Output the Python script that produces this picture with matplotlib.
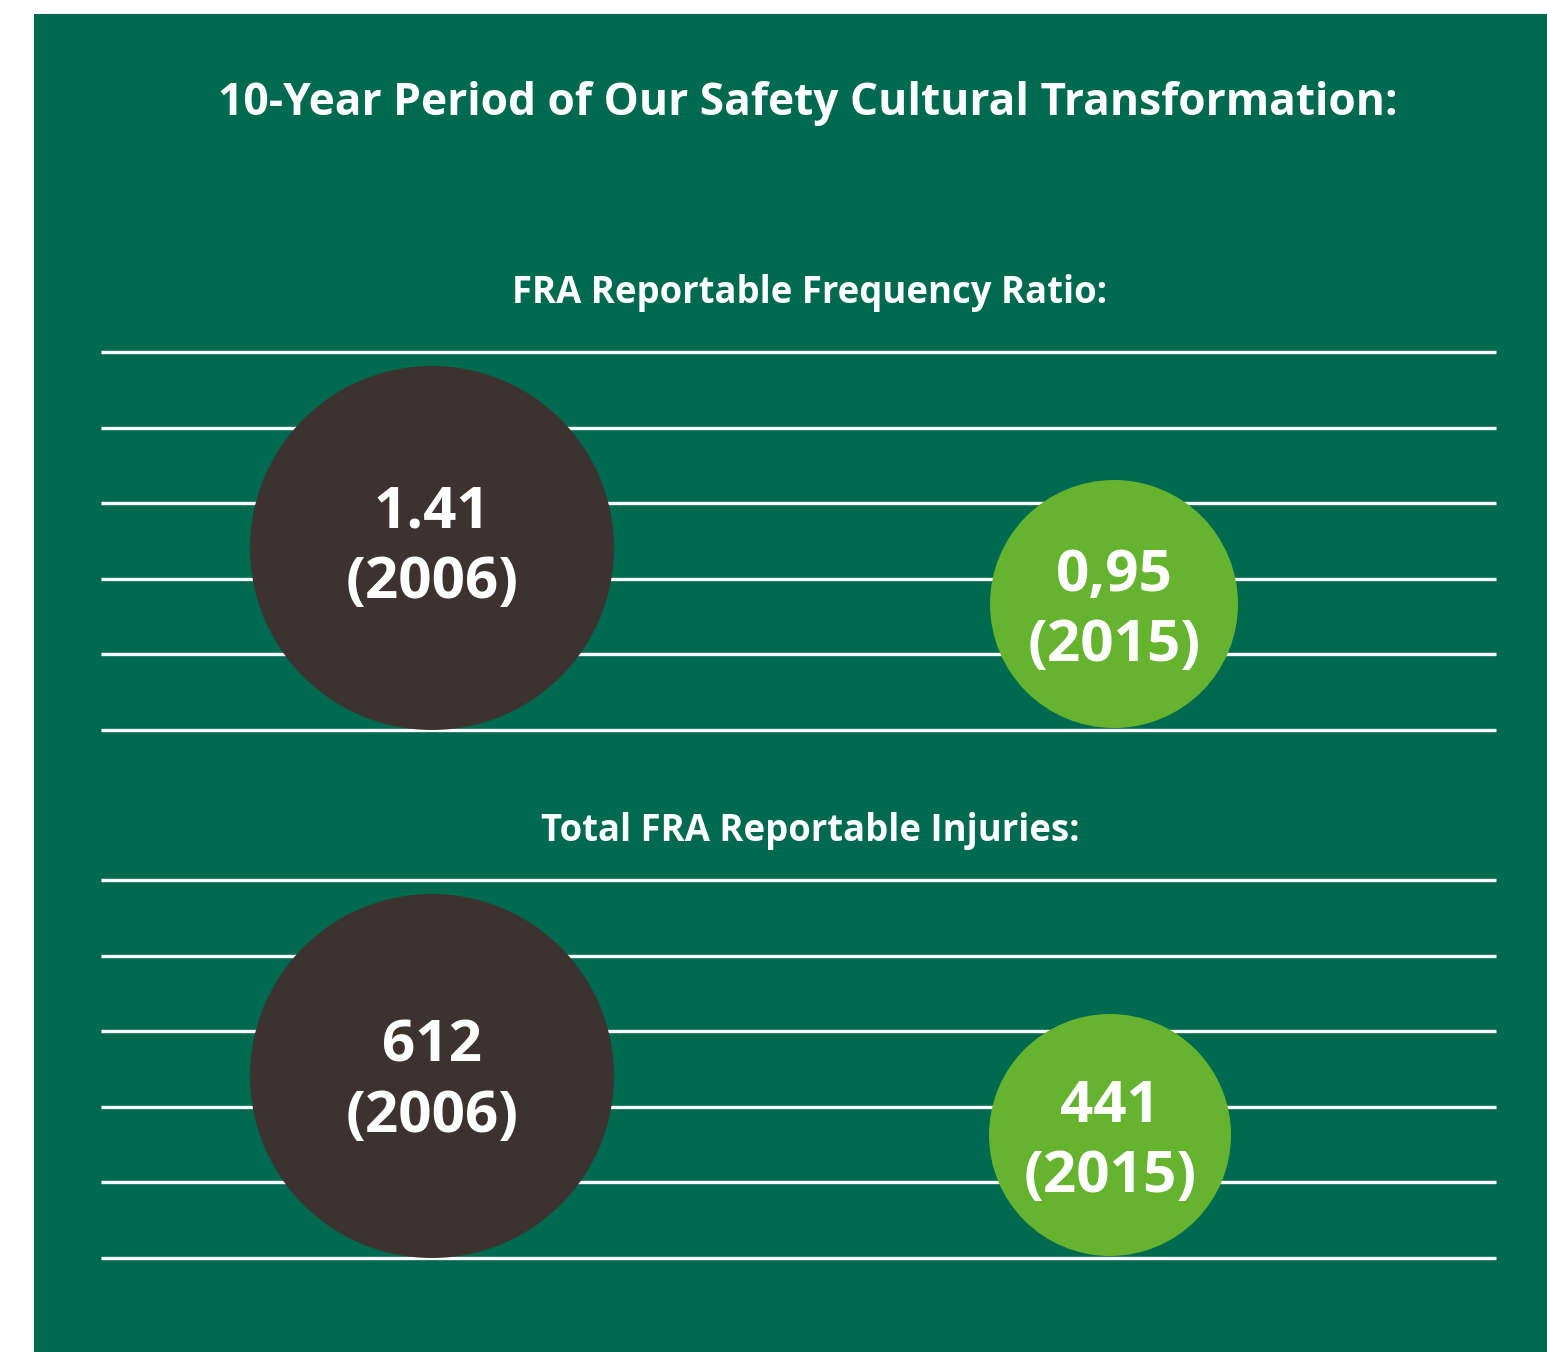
import matplotlib
matplotlib.use("Agg")
import matplotlib.pyplot as plt
from matplotlib.patches import Rectangle, Circle

plt.rcParams['font.family'] = ['Open Sans', 'DejaVu Sans']

title = "10-Year Period of Our Safety Cultural Transformation:"
panel_titles = ["FRA Reportable Frequency Ratio:", "Total FRA Reportable Injuries:"]
values_2006 = ["1.41", "612"]
values_2015 = ["0,95", "441"]
years = ["(2006)", "(2015)"]

W, H = 1547, 1352
BG = "#006a50"
DARK = "#3c3230"
LIGHT = "#65b32e"

fig = plt.figure(figsize=(W / 100, H / 100), dpi=100)
ax = fig.add_axes([0, 0, 1, 1])
ax.set_xlim(0, W)
ax.set_ylim(H, 0)
ax.axis('off')
fig.patch.set_facecolor('white')

ax.add_patch(Rectangle((34, 14), W - 34, H - 14, facecolor=BG, edgecolor='none', zorder=0))

ax.text(808, 104, title, color='white', fontsize=31.9, fontweight='bold',
        ha='center', va='center', zorder=5)

# panel layouts
panel_top = [352, 880]
title_y = [293, 831]
spacing = 75.6
dark_c = [(432, 548), (432, 1076)]
dark_r = [182, 182]
light_c = [(1114, 604), (1110, 1135)]
light_r = [124, 121]
dark_off = [(-35, 35), (-29, 41)]
light_off = [(-28, 42), (-28, 42)]

for i in range(2):
    ax.text(810, title_y[i], panel_titles[i], color='white', fontsize=26.3,
            fontweight='bold', ha='center', va='center', zorder=5)
    for k in range(6):
        y = panel_top[i] + k * spacing
        ax.plot([101, 1496], [y, y], color='white', lw=2.4, zorder=1,
                solid_capstyle='butt')
    ax.add_patch(Circle(dark_c[i], dark_r[i], facecolor=DARK, edgecolor='none', zorder=2))
    ax.add_patch(Circle(light_c[i], light_r[i], facecolor=LIGHT, edgecolor='none', zorder=2))
    cx, cy = dark_c[i]
    ax.text(cx, cy + dark_off[i][0], values_2006[i], color='white', fontsize=42, fontweight='bold',
            ha='center', va='center', zorder=5)
    ax.text(cx, cy + dark_off[i][1], years[0], color='white', fontsize=42, fontweight='bold',
            ha='center', va='center', zorder=5)
    cx, cy = light_c[i]
    ax.text(cx, cy + light_off[i][0], values_2015[i], color='white', fontsize=42, fontweight='bold',
            ha='center', va='center', zorder=5)
    ax.text(cx, cy + light_off[i][1], years[1], color='white', fontsize=42, fontweight='bold',
            ha='center', va='center', zorder=5)

fig.savefig("out.png", dpi=100, facecolor='white')
